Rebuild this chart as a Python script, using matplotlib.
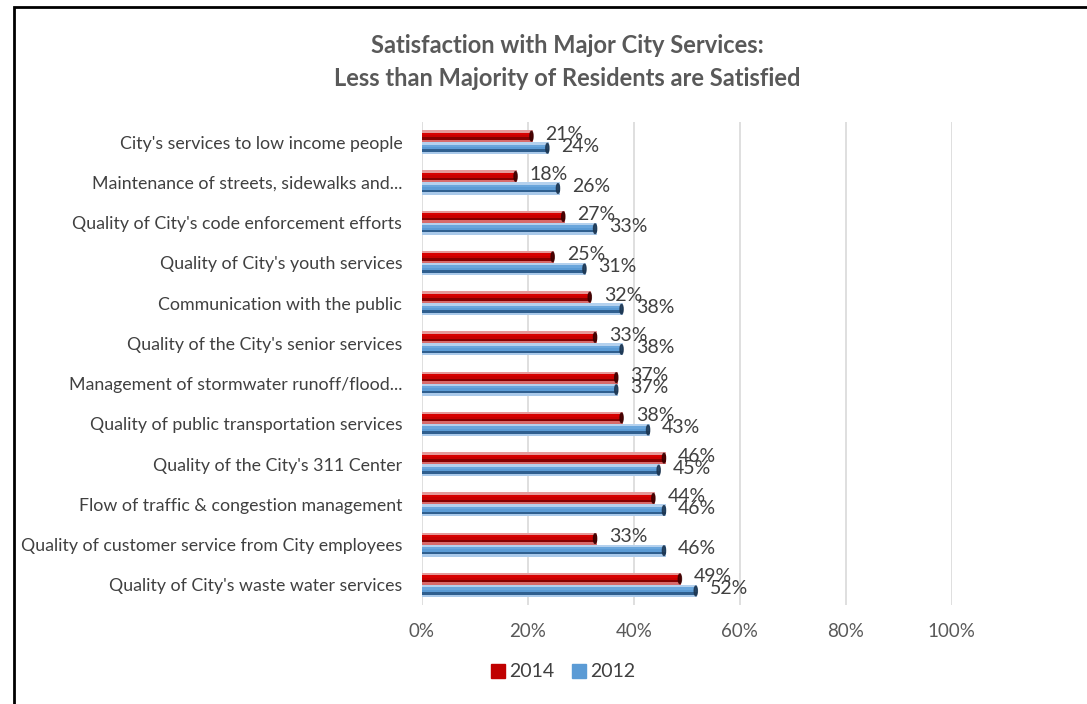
import matplotlib.pyplot as plt
from matplotlib.patches import Rectangle, Ellipse
from matplotlib.ticker import PercentFormatter

plt.rcParams['font.family'] = ['Lato', 'DejaVu Sans']

categories = [
    "City's services to low income people",
    "Maintenance of streets, sidewalks and...",
    "Quality of City's code enforcement efforts",
    "Quality of City's youth services",
    "Communication with the public",
    "Quality of the City's senior services",
    "Management of stormwater runoff/flood...",
    "Quality of public transportation services",
    "Quality of the City's 311 Center",
    "Flow of traffic & congestion management",
    "Quality of customer service from City employees",
    "Quality of City's waste water services",
]
sat_2014 = [21, 18, 27, 25, 32, 33, 37, 38, 46, 44, 33, 49]
sat_2012 = [24, 26, 33, 31, 38, 38, 37, 43, 45, 46, 46, 52]
x_ticks = [0, 20, 40, 60, 80, 100]

# cylinder-ish shading: strips from top edge to bottom edge of each bar
red_strips = ['#e59a9a', '#d80000', '#c80000', '#850000', '#d86a6a']
blue_strips = ['#b4d1ee', '#6aa6dc', '#5b9bd5', '#2f5f8f', '#a9c9ea']
bar_h = 0.30
offset = 0.15

fig = plt.figure(figsize=(10.87, 7.04), dpi=100)
ax = fig.add_axes([0.388, 0.1406, 0.4876, 0.686])


def draw_bar(y, val, strips, cap):
    n = len(strips)
    sh = bar_h / n
    top = y - bar_h / 2
    for k, c in enumerate(strips):
        ax.barh(top + sh * (k + 0.5), val, height=sh, color=c,
                edgecolor='none', zorder=3)
    ax.add_patch(Ellipse((val - 0.3, y), 0.6, bar_h * 0.8, color=cap,
                         alpha=0.85, zorder=4))


for i, (a, b) in enumerate(zip(sat_2014, sat_2012)):
    draw_bar(i - offset, a, red_strips, '#3a0000')
    draw_bar(i + offset, b, blue_strips, '#1c3550')
    ax.annotate(f'{a}%', (a, i - offset), xytext=(9, 1.5),
                textcoords='offset points', va='center', ha='left',
                fontsize=14, color='#404040', zorder=5)
    ax.annotate(f'{b}%', (b, i + offset), xytext=(9, 1.5),
                textcoords='offset points', va='center', ha='left',
                fontsize=14, color='#404040', zorder=5)

ax.set_xlim(0, 100)
ax.set_ylim(11.5, -0.5)
ax.set_xticks(x_ticks)
ax.xaxis.set_major_formatter(PercentFormatter(decimals=0))
ax.set_yticks(range(len(categories)))
ax.set_yticklabels(categories)
ax.tick_params(axis='y', length=0, pad=14, labelsize=12.8, labelcolor='#404040')
ax.tick_params(axis='x', length=0, pad=13, labelsize=13.5, labelcolor='#595959')
ax.grid(axis='x', color='#d9d9d9', linewidth=1.2, zorder=0)
ax.set_axisbelow(True)
for s in ax.spines.values():
    s.set_visible(False)

fig.text(0.522, 0.936, 'Satisfaction with Major City Services:', ha='center',
         va='center', fontsize=17, fontweight='bold', color='#595959')
fig.text(0.522, 0.889, 'Less than Majority of Residents are Satisfied',
         ha='center', va='center', fontsize=17, fontweight='bold',
         color='#595959')

# legend
handles = [Rectangle((0, 0), 1, 1, color='#c00000'),
           Rectangle((0, 0), 1, 1, color='#5b9bd5')]
fig.legend(handles, ['2014', '2012'], loc='center', ncol=2,
           bbox_to_anchor=(0.518, 0.0455), frameon=False, fontsize=14,
           handlelength=0.75, handleheight=0.75, handletextpad=0.2,
           columnspacing=0.9, labelcolor='#404040')

# outer frame (only left and top edges fall inside the image)
fig.patches.append(Rectangle((14 / 1087, -0.1), 1.2, 1.1 - 7 / 704,
                             transform=fig.transFigure, fill=False,
                             edgecolor='black', linewidth=2))

fig.savefig('out.png', dpi=100)
